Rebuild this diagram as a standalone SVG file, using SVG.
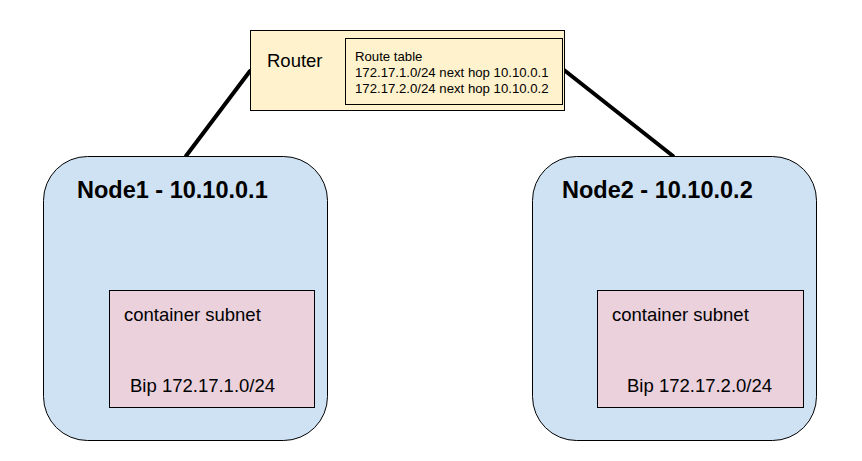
<svg xmlns="http://www.w3.org/2000/svg" width="862" height="461" viewBox="0 0 862 461">
<style>
.t{font-family:"Liberation Sans",Arial,sans-serif;fill:#000}
.node{fill:#cfe2f3;stroke:#000;stroke-width:1}
.sub{fill:#ead1dc;stroke:#000;stroke-width:1}
.title{font-size:23.5px;font-weight:bold}
.lbl{font-size:18.5px}
.rt{font-size:13.2px}
.link{stroke:#000;stroke-width:4;stroke-linecap:round;fill:none}
</style>
<rect width="862" height="461" fill="#fff"/>
<g id="connectors">
<line class="link" x1="186" y1="156" x2="250" y2="71"/>
<line class="link" x1="564" y1="70" x2="673" y2="156"/>
</g>
<g id="router">
<rect x="250.5" y="30.5" width="314" height="80" fill="#fff2cc" stroke="#000"/>
<text class="t lbl" x="267" y="67">Router</text>
<rect x="345.5" y="38.5" width="217" height="66" fill="none" stroke="#000"/>
<text class="t rt" x="355" y="61">Route table</text>
<text class="t rt" x="355" y="77">172.17.1.0/24 next hop 10.10.0.1</text>
<text class="t rt" x="355" y="93">172.17.2.0/24 next hop 10.10.0.2</text>
</g>
<g id="node1">
<rect class="node" x="43.5" y="156.5" width="284" height="284" rx="44"/>
<text class="t title" x="77" y="198">Node1 - 10.10.0.1</text>
</g>
<g id="subnet1">
<rect class="sub" x="109.5" y="290.5" width="205" height="117"/>
<text class="t lbl" x="124" y="321">container subnet</text>
<text class="t lbl" x="130" y="392">Bip 172.17.1.0/24</text>
</g>
<g id="node2">
<rect class="node" x="532.5" y="156.5" width="284" height="284" rx="44"/>
<text class="t title" x="562" y="198">Node2 - 10.10.0.2</text>
</g>
<g id="subnet2">
<rect class="sub" x="597.5" y="290.5" width="206" height="117"/>
<text class="t lbl" x="612" y="321">container subnet</text>
<text class="t lbl" x="627" y="392">Bip 172.17.2.0/24</text>
</g>
</svg>
